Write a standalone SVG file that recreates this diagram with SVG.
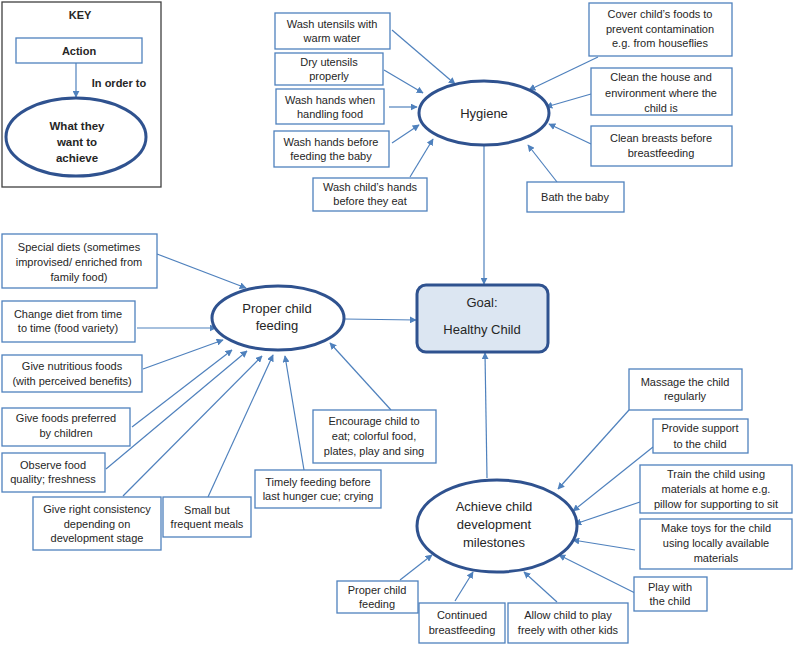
<svg xmlns="http://www.w3.org/2000/svg" width="794" height="645" viewBox="0 0 794 645">
<defs>
<marker id="ah" viewBox="0 0 10 10" refX="9" refY="5" markerWidth="7" markerHeight="7" markerUnits="userSpaceOnUse" orient="auto"><path d="M0,0 L10,5 L0,10 z" fill="#4f81bd"/></marker>
</defs>
<style>
.bx{fill:#fff;stroke:#4f81bd;stroke-width:1.3}
.el{fill:#fff;stroke:#2f528f;stroke-width:3}
.t{font-family:"Liberation Sans",Arial,sans-serif;font-size:11px;fill:#262626;text-anchor:middle}
.tl{font-family:"Liberation Sans",Arial,sans-serif;font-size:13px;fill:#262626;text-anchor:middle}
.b{font-weight:bold}
.cn line{stroke:#4f81bd;stroke-width:1.2;marker-end:url(#ah)}
</style>
<rect width="794" height="645" fill="#fff"/>

<g id="key">
<rect x="2" y="2" width="159" height="185" fill="#fff" stroke="#404040" stroke-width="1.3"/>
<text class="t b" x="80" y="19">KEY</text>
<rect class="bx" x="16" y="38" width="126" height="25"/>
<text class="t b" x="79" y="55">Action</text>
<line x1="76" y1="63" x2="76" y2="97" stroke="#4f81bd" stroke-width="1.2" marker-end="url(#ah)"/>
<text class="t b" x="119" y="87">In order to</text>
<ellipse class="el" cx="76" cy="137" rx="70" ry="39"/>
<text class="t b" x="77" y="130" style="font-size:11.5px"><tspan x="77">What they</tspan><tspan x="77" dy="16">want to</tspan><tspan x="77" dy="16">achieve</tspan></text>
</g>

<g class="cn" id="connectors">
<line x1="392" y1="30" x2="455" y2="84"/>
<line x1="384" y1="70" x2="423" y2="93"/>
<line x1="389" y1="107" x2="417" y2="107"/>
<line x1="392" y1="143" x2="419" y2="125"/>
<line x1="410" y1="177" x2="433" y2="139"/>
<line x1="598" y1="57" x2="529" y2="90"/>
<line x1="591" y1="94" x2="546" y2="107"/>
<line x1="591" y1="144" x2="549" y2="124"/>
<line x1="557" y1="182" x2="528" y2="145"/>
<line x1="484" y1="146" x2="484" y2="284"/>
<line x1="344" y1="319" x2="416" y2="320"/>
<line x1="487" y1="478" x2="485" y2="353"/>
<line x1="157" y1="254" x2="246" y2="288"/>
<line x1="137" y1="328" x2="216" y2="328"/>
<line x1="143" y1="369" x2="223" y2="340"/>
<line x1="132" y1="427" x2="232" y2="350"/>
<line x1="106" y1="469" x2="247" y2="351"/>
<line x1="123" y1="496" x2="262" y2="356"/>
<line x1="208" y1="497" x2="273" y2="355"/>
<line x1="304" y1="470" x2="285" y2="356"/>
<line x1="391" y1="410" x2="330" y2="343"/>
<line x1="629" y1="410" x2="558" y2="489"/>
<line x1="653" y1="447" x2="573" y2="511"/>
<line x1="640" y1="502" x2="575" y2="524"/>
<line x1="635" y1="550" x2="573" y2="540"/>
<line x1="635" y1="593" x2="559" y2="555"/>
<line x1="557" y1="602" x2="524" y2="572"/>
<line x1="455" y1="601" x2="473" y2="572"/>
<line x1="400" y1="580" x2="432" y2="555"/>
</g>

<g id="hygiene"><ellipse class="el" cx="484" cy="113" rx="65" ry="32"/><text class="tl" x="484" y="118">Hygiene</text></g>
<g id="goal"><rect x="417" y="285" width="131" height="67" rx="9" fill="#dce6f2" stroke="#2f528f" stroke-width="3"/><text class="tl" x="482" y="307">Goal:</text><text class="tl" x="482" y="334">Healthy Child</text></g>
<g id="feeding"><ellipse class="el" cx="278" cy="318" rx="66" ry="32"/><text class="tl" x="277" y="313"><tspan x="277">Proper child</tspan><tspan x="277" dy="17">feeding</tspan></text></g>
<g id="milestones"><ellipse class="el" cx="497" cy="526" rx="80" ry="46"/><text class="tl" x="494" y="511"><tspan x="494">Achieve child</tspan><tspan x="494" dy="18">development</tspan><tspan x="494" dy="18">milestones</tspan></text></g>

<g id="h1"><rect class="bx" x="275" y="13" width="115" height="36"/><text class="t" x="332" y="28"><tspan x="332">Wash utensils with</tspan><tspan x="332" dy="14">warm water</tspan></text></g>
<g id="h2"><rect class="bx" x="275" y="53" width="108" height="32"/><text class="t" x="329" y="66"><tspan x="329">Dry utensils</tspan><tspan x="329" dy="14">properly</tspan></text></g>
<g id="h3"><rect class="bx" x="276" y="89" width="108" height="35"/><text class="t" x="330" y="104"><tspan x="330">Wash hands when</tspan><tspan x="330" dy="14">handling food</tspan></text></g>
<g id="h4"><rect class="bx" x="274" y="131" width="115" height="36"/><text class="t" x="331" y="146"><tspan x="331">Wash hands before</tspan><tspan x="331" dy="14">feeding the baby</tspan></text></g>
<g id="h5"><rect class="bx" x="313" y="178" width="114" height="33"/><text class="t" x="370" y="191"><tspan x="370">Wash child’s hands</tspan><tspan x="370" dy="14">before they eat</tspan></text></g>
<g id="h6"><rect class="bx" x="589" y="3" width="143" height="53"/><text class="t" x="660" y="18"><tspan x="660">Cover child’s foods to</tspan><tspan x="660" dy="15">prevent contamination</tspan><tspan x="660" dy="14">e.g. from houseflies</tspan></text></g>
<g id="h7"><rect class="bx" x="591" y="68" width="141" height="47"/><text class="t" x="661" y="81"><tspan x="661">Clean the house and</tspan><tspan x="661" dy="16">environment where the</tspan><tspan x="661" dy="15">child is</tspan></text></g>
<g id="h8"><rect class="bx" x="591" y="126" width="141" height="40"/><text class="t" x="661" y="142"><tspan x="661">Clean breasts before</tspan><tspan x="661" dy="15">breastfeeding</tspan></text></g>
<g id="h9"><rect class="bx" x="527" y="182" width="97" height="30"/><text class="t" x="575" y="201">Bath the baby</text></g>

<g id="f1"><rect class="bx" x="2" y="234" width="155" height="54"/><text class="t" x="79" y="251"><tspan x="79">Special diets (sometimes</tspan><tspan x="79" dy="15">improvised/ enriched from</tspan><tspan x="79" dy="15">family food)</tspan></text></g>
<g id="f2"><rect class="bx" x="2" y="301" width="133" height="41"/><text class="t" x="68" y="318"><tspan x="68">Change diet from time</tspan><tspan x="68" dy="14">to time (food variety)</tspan></text></g>
<g id="f3"><rect class="bx" x="2" y="355" width="140" height="37"/><text class="t" x="72" y="370"><tspan x="72">Give nutritious foods</tspan><tspan x="72" dy="15">(with perceived benefits)</tspan></text></g>
<g id="f4"><rect class="bx" x="2" y="408" width="128" height="38"/><text class="t" x="66" y="422"><tspan x="66">Give foods preferred</tspan><tspan x="66" dy="15">by children</tspan></text></g>
<g id="f5"><rect class="bx" x="2" y="453" width="103" height="39"/><text class="t" x="53" y="469"><tspan x="53">Observe food</tspan><tspan x="53" dy="14">quality; freshness</tspan></text></g>
<g id="f6"><rect class="bx" x="33" y="497" width="128" height="53"/><text class="t" x="97" y="513"><tspan x="97">Give right consistency</tspan><tspan x="97" dy="15">depending on</tspan><tspan x="97" dy="14">development stage</tspan></text></g>
<g id="f7"><rect class="bx" x="163" y="497" width="88" height="40"/><text class="t" x="207" y="514"><tspan x="207">Small but</tspan><tspan x="207" dy="14">frequent meals</tspan></text></g>
<g id="f8"><rect class="bx" x="255" y="470" width="126" height="38"/><text class="t" x="318" y="486"><tspan x="318">Timely feeding before</tspan><tspan x="318" dy="14">last hunger cue; crying</tspan></text></g>
<g id="f9"><rect class="bx" x="313" y="410" width="123" height="53"/><text class="t" x="374" y="425"><tspan x="374">Encourage child to</tspan><tspan x="374" dy="15">eat; colorful food,</tspan><tspan x="374" dy="15">plates, play and sing</tspan></text></g>

<g id="m1"><rect class="bx" x="629" y="369" width="113" height="41"/><text class="t" x="685" y="386"><tspan x="685">Massage  the child</tspan><tspan x="685" dy="14">regularly</tspan></text></g>
<g id="m2"><rect class="bx" x="653" y="419" width="95" height="34"/><text class="t" x="700" y="432"><tspan x="700">Provide support</tspan><tspan x="700" dy="16">to the child</tspan></text></g>
<g id="m3"><rect class="bx" x="640" y="465" width="152" height="48"/><text class="t" x="716" y="478"><tspan x="716">Train the child using</tspan><tspan x="716" dy="15">materials at home e.g.</tspan><tspan x="716" dy="15">pillow for supporting to sit</tspan></text></g>
<g id="m4"><rect class="bx" x="640" y="519" width="152" height="50"/><text class="t" x="716" y="532"><tspan x="716">Make toys for the child</tspan><tspan x="716" dy="15">using locally available</tspan><tspan x="716" dy="15">materials</tspan></text></g>
<g id="m5"><rect class="bx" x="634" y="577" width="73" height="34"/><text class="t" x="670" y="591"><tspan x="670">Play with</tspan><tspan x="670" dy="14">the child</tspan></text></g>
<g id="m6"><rect class="bx" x="508" y="603" width="120" height="40"/><text class="t" x="568" y="619"><tspan x="568">Allow child to play</tspan><tspan x="568" dy="15">freely with other kids</tspan></text></g>
<g id="m7"><rect class="bx" x="419" y="603" width="86" height="40"/><text class="t" x="462" y="619"><tspan x="462">Continued</tspan><tspan x="462" dy="15">breastfeeding</tspan></text></g>
<g id="m8"><rect class="bx" x="337" y="581" width="81" height="32"/><text class="t" x="377" y="594"><tspan x="377">Proper child</tspan><tspan x="377" dy="14">feeding</tspan></text></g>
</svg>
